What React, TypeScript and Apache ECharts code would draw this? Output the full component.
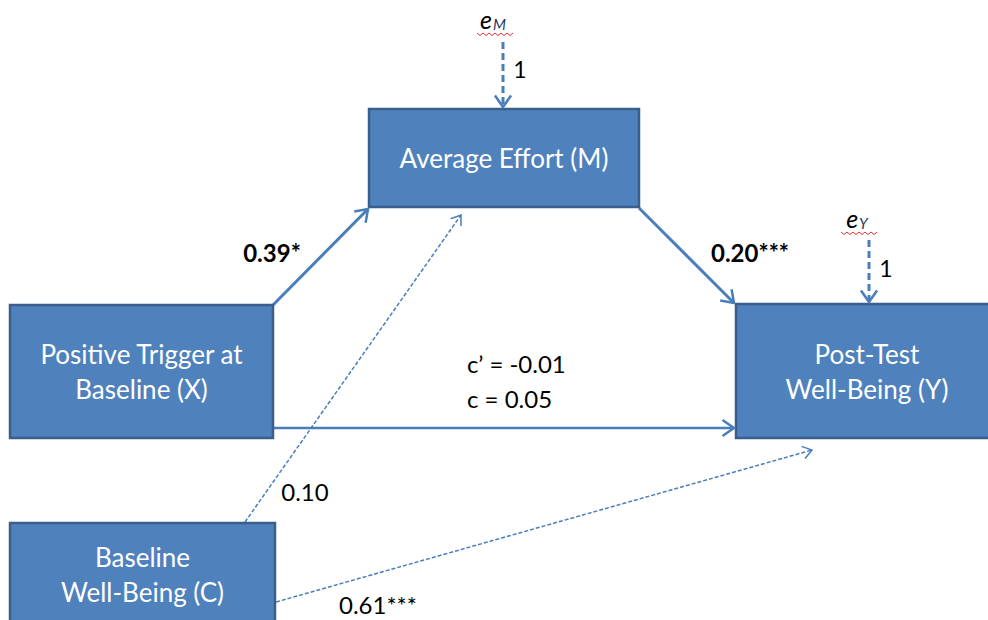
import React, { useEffect, useRef } from "react";
import * as echarts from "echarts";

// Node labels (lines of text per box)
const nodeIds = ["M", "X", "Y", "C"];
const nodeLabels = [
  ["Average Effort (M)"],
  ["Positive Trigger at", "Baseline (X)"],
  ["Post-Test", "Well-Being (Y)"],
  ["Baseline", "Well-Being (C)"],
];
// Path coefficients
const pathNames = ["X→M", "M→Y", "X→Y", "C→M", "C→Y", "eM→M", "eY→Y"];
const pathLabels = ["0.39*", "0.20***", "c\u2019 = -0.01\nc = 0.05", "0.10", "0.61***", "1", "1"];
const pathBold = [true, true, false, false, false, false, false];
const errorTerms = ["M", "Y"];

// Layout (pixels)
const boxes: Record<string, [number, number, number, number]> = {
  M: [369, 109, 270, 98],
  X: [10, 305, 263, 133],
  Y: [736, 304, 262, 134],
  C: [10, 523, 265, 120],
};
const edges: Record<string, { from: [number, number]; to: [number, number]; w: number; dash?: number[]; label: [number, number]; align?: string; size: number }> = {
  "X→M": { from: [273, 305], to: [368, 209], w: 3, label: [272, 252], size: 24 },
  "M→Y": { from: [639, 208], to: [734, 303], w: 3, label: [750, 252], size: 24 },
  "X→Y": { from: [274, 428], to: [734, 428], w: 2.5, label: [467, 381], align: "left", size: 24 },
  "C→M": { from: [245, 522], to: [461, 215], w: 1.5, dash: [4, 2], label: [305, 491], size: 24 },
  "C→Y": { from: [276, 602], to: [812, 450], w: 1.5, dash: [4, 2], label: [378, 604], size: 24 },
  "eM→M": { from: [503, 42], to: [503, 107], w: 3, dash: [7, 4], label: [520, 69], size: 23 },
  "eY→Y": { from: [869, 240], to: [869, 302], w: 3, dash: [7, 4], label: [886, 268], size: 23 },
};
const errPos: Record<string, [number, number]> = { M: [493, 19], Y: [857, 218] };

const FILL = "#4F81BD";
const BORDER = "#3A5F8C";
const LINE = "#4A7EBB";
const FONT = "Lato, 'Open Sans', sans-serif";

function arrowHead(to: [number, number], from: [number, number], size: number) {
  const ang = Math.atan2(to[1] - from[1], to[0] - from[0]);
  const a = (35 * Math.PI) / 180;
  const p1: [number, number] = [to[0] - size * Math.cos(ang - a), to[1] - size * Math.sin(ang - a)];
  const p2: [number, number] = [to[0] - size * Math.cos(ang + a), to[1] - size * Math.sin(ang + a)];
  return [p1, to, p2];
}

export default function App() {
  const ref = useRef<HTMLDivElement>(null);
  useEffect(() => {
    if (!ref.current) return;
    const chart = echarts.init(ref.current, null, { renderer: "svg" });
    const g: any[] = [];
    // boxes
    nodeIds.forEach((id, i) => {
      const [x, y, w, h] = boxes[id];
      g.push({
        type: "rect",
        shape: { x, y, width: w, height: h },
        style: { fill: FILL, stroke: BORDER, lineWidth: 2.5 },
        z: 2,
      });
      const lines = nodeLabels[i];
      const lh = 35;
      const cy = y + h / 2 - ((lines.length - 1) * lh) / 2 + (id === "C" ? -9 : 0);
      lines.forEach((t, j) => {
        g.push({
          type: "text",
          x: x + w / 2,
          y: cy + j * lh,
          style: { text: t, fill: "#ffffff", font: `26px ${FONT}`, textAlign: "center", textVerticalAlign: "middle" },
          z: 3,
        });
      });
    });
    // edges
    pathNames.forEach((name, i) => {
      const e = edges[name];
      g.push({
        type: "line",
        shape: { x1: e.from[0], y1: e.from[1], x2: e.to[0], y2: e.to[1] },
        style: { stroke: LINE, lineWidth: e.w, lineDash: e.dash || null },
        z: 1,
      });
      const head = arrowHead(e.to, e.from, e.w > 2 ? 14 : 11);
      g.push({
        type: "polyline",
        shape: { points: head },
        style: { stroke: LINE, lineWidth: e.w > 2 ? 2.5 : 1.5, fill: null },
        z: 4,
      });
      g.push({
        type: "text",
        x: e.label[0],
        y: e.label[1],
        style: {
          text: pathLabels[i],
          fill: "#000",
          font: `${pathBold[i] ? "bold " : ""}${e.size}px ${FONT}`,
          textAlign: e.align || "center",
          textVerticalAlign: "middle",
          lineHeight: 35,
        },
        z: 5,
      });
    });
    // error terms
    errorTerms.forEach((id) => {
      const [x, y] = errPos[id];
      g.push({
        type: "text",
        x,
        y,
        style: {
          text: `{e|e}{s|${id}}`,
          rich: {
            e: { font: `italic 25px ${FONT}`, fill: "#000", verticalAlign: "bottom" },
            s: { font: `italic 15px ${FONT}`, fill: "#1F3A5F", padding: [9, 0, 0, 1] },
          },
          textAlign: "center",
          textVerticalAlign: "middle",
        },
        z: 5,
      });
      const pts: [number, number][] = [];
      const x0 = x - 16, x1 = x + 20;
      for (let k = 0; x0 + k * 3 <= x1; k++) pts.push([x0 + k * 3, y + 14 + (k % 2 === 0 ? 0 : 2.5)]);
      g.push({ type: "polyline", shape: { points: pts }, style: { stroke: "#E03030", lineWidth: 1, fill: null }, z: 5 });
    });

    chart.setOption({ animation: false, graphic: { elements: g } });
    return () => chart.dispose();
  }, []);
  return <div ref={ref} style={{ position: "fixed", left: 0, top: 0, width: 988, height: 620, background: "#fff" }} />;
}
